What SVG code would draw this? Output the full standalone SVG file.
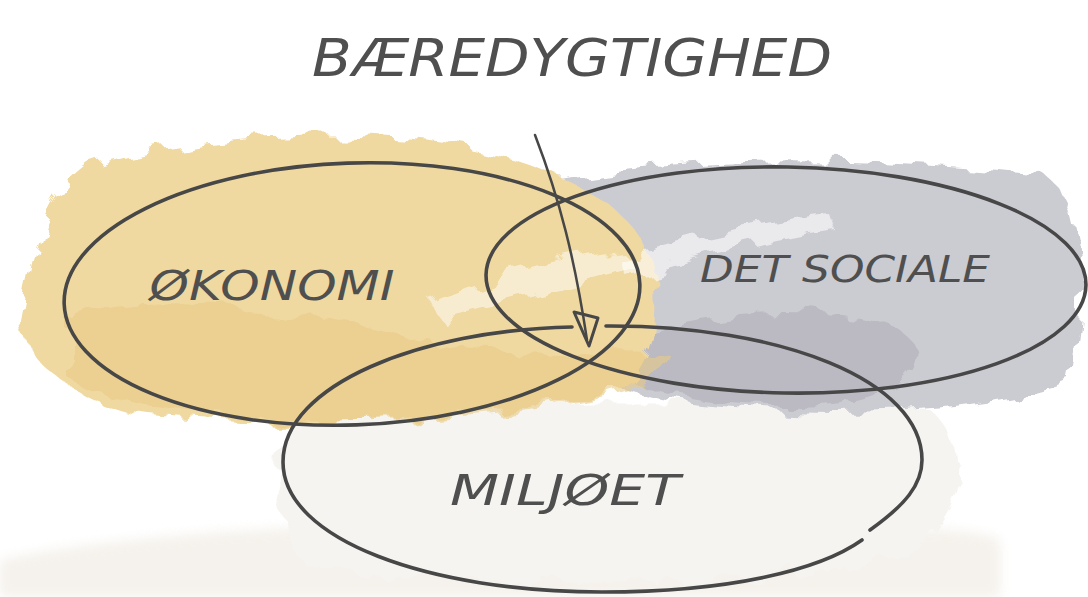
<svg xmlns="http://www.w3.org/2000/svg" width="1088" height="597" viewBox="0 0 1088 597">
<defs>
<filter id="rough" x="-10%" y="-10%" width="120%" height="120%">
<feTurbulence type="fractalNoise" baseFrequency="0.03" numOctaves="3" seed="4"/>
<feDisplacementMap in="SourceGraphic" scale="28"/>
</filter>
<filter id="soft"><feGaussianBlur stdDeviation="6"/></filter>
</defs>
<style>
.ring{fill:none;stroke:#474747;stroke-width:3.6;stroke-linecap:round}
.hand{font-family:"DejaVu Sans",sans-serif;fill:#4f4f4f;font-style:italic;font-weight:normal}
</style>
<rect width="1088" height="597" fill="#ffffff"/>
<g id="washes">
<path d="M0,560 C200,520 500,520 700,530 C850,535 950,520 1000,540 L1000,597 L0,597 Z" fill="#f1ece4" opacity="0.7" filter="url(#soft)"/>
<path d="M290,420 C400,400 700,400 930,410 C980,450 960,520 900,560 C700,590 400,590 300,560 C270,500 270,450 290,420 Z" fill="#f6f4f0" filter="url(#rough)"/>
<path d="M470,200 C600,160 800,150 1040,175 C1088,190 1088,300 1070,380 C1000,410 850,420 700,405 C620,395 540,360 520,330 C470,280 440,230 470,200 Z" fill="#cbcbd2" filter="url(#rough)"/>
<path d="M620,340 C700,310 820,300 900,330 C940,360 900,400 820,405 C720,410 640,395 620,370 Z" fill="#b8b7bf" opacity="0.8" filter="url(#rough)"/>
<path d="M90,165 C200,130 380,125 480,150 C560,170 640,210 650,260 C660,320 650,380 600,395 C480,420 300,430 150,415 C80,405 20,360 20,320 C30,270 40,200 90,165 Z" fill="#f0d9a0" filter="url(#rough)"/>
<path d="M70,320 C150,290 300,310 420,340 C520,360 620,350 670,355 C660,390 580,410 420,420 C250,425 120,410 70,380 Z" fill="#e8cb88" opacity="0.6" filter="url(#rough)"/>
<path d="M430,300 C500,270 580,255 620,250 L640,270 C600,280 520,300 440,320 Z" fill="#ffffff" opacity="0.5" filter="url(#rough)"/>
<path d="M620,260 C700,235 780,220 830,215 L835,230 C770,240 700,260 630,280 Z" fill="#ffffff" opacity="0.6" filter="url(#rough)"/>
</g>
<g id="title"><text class="hand" x="572" y="76" font-size="52" text-anchor="middle" textLength="520" lengthAdjust="spacingAndGlyphs">BÆREDYGTIGHED</text></g>
<g id="okonomi">
<ellipse class="ring" cx="352" cy="294" rx="288" ry="131" transform="rotate(-2 352 294)"/>
<text class="hand" x="272" y="300" font-size="40" text-anchor="middle" textLength="245" lengthAdjust="spacingAndGlyphs">ØKONOMI</text>
</g>
<g id="det-sociale">
<ellipse class="ring" cx="786" cy="280" rx="300" ry="113" transform="rotate(1 786 280)"/>
<text class="hand" x="845" y="282" font-size="38" text-anchor="middle" textLength="290" lengthAdjust="spacingAndGlyphs">DET SOCIALE</text>
</g>
<g id="miljoet">
<path class="ring" d="M572,327 C420,330 283,385 283,462 C283,540 430,592 602,592 C730,592 820,570 862,540 M870,530 C905,505 922,485 922,460 C922,380 780,325 606,326"/>
<text class="hand" x="565" y="505" font-size="42" text-anchor="middle" textLength="230" lengthAdjust="spacingAndGlyphs">MILJØET</text>
</g>
<g id="connectors">
<path d="M535,135 C560,200 575,260 587,340" fill="none" stroke="#474747" stroke-width="2.5" stroke-linecap="round"/>
<path d="M574,312 L598,318 L589,346 Z" fill="none" stroke="#474747" stroke-width="3" stroke-linejoin="round"/>
</g>
</svg>
